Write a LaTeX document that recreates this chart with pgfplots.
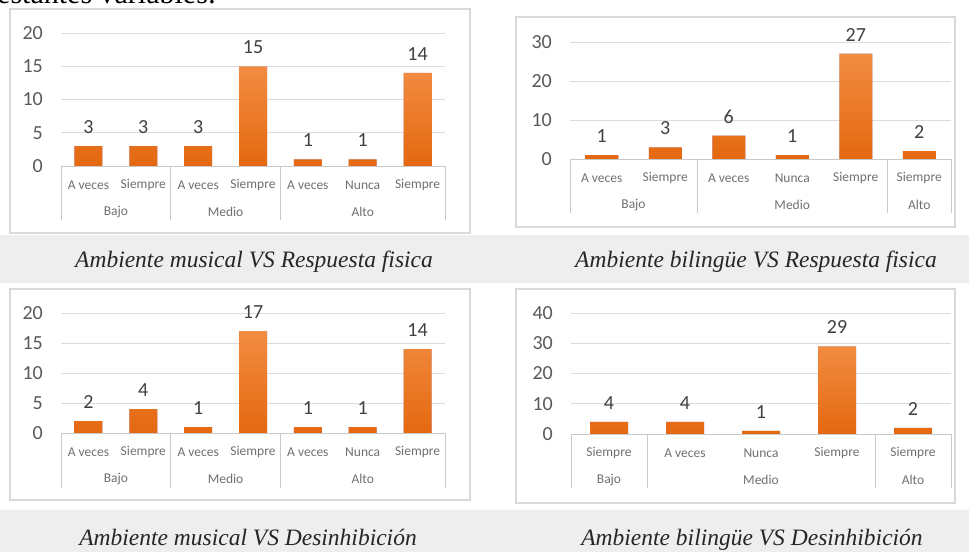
\documentclass[border=0pt]{standalone}
\usepackage{pgfplots}
\pgfplotsset{compat=1.18}
\usepackage{fontspec}
\setmainfont{Liberation Serif}
\newfontfamily\calibri{Carlito}

\definecolor{barTop}{HTML}{F28C42}
\definecolor{barBot}{HTML}{E4680F}
\definecolor{frameGray}{HTML}{D9D9D9}
\definecolor{gridGray}{HTML}{DCDCDC}
\definecolor{baseGray}{HTML}{C8C8C8}
\definecolor{bandGray}{HTML}{EEEEEE}
\definecolor{tickGray}{HTML}{595959}
\definecolor{catGray}{HTML}{707070}
\definecolor{valGray}{HTML}{404040}

\tikzset{
  grp/.style={font=\calibri\fontsize{13.5}{14}\selectfont, text=catGray, inner sep=0pt, anchor=center},
  sep/.style={baseGray, line width=0.8pt},
  captxt/.style={font=\fontsize{23.5}{28}\selectfont\itshape, text=black!85, anchor=base, inner sep=0pt},
}

\pgfplotsset{
  chart/.style={
    scale only axis,
    anchor=south west,
    ymin=0,
    axis line style={draw=none},
    major tick length=0pt,
    ymajorgrids,
    grid style={gridGray, line width=0.8pt},
    xtick=data,
    ybar,
    clip=false,
    tick label style={font=\calibri\fontsize{20}{20}\selectfont, text=tickGray},
    /pgf/number format/assume math mode=true,
    yticklabel style={anchor=east, inner sep=0pt, xshift=-18pt},
    xticklabel style={anchor=center, inner sep=0pt, yshift=-19pt,
      font=\calibri\fontsize{13.5}{14}\selectfont, text=catGray},
    nodes near coords,
    every node near coord/.append style={font=\calibri\fontsize{20}{20}\selectfont,
      text=valGray, anchor=center, inner sep=0pt, yshift=19pt},
    every axis plot/.append style={draw=none, top color=barTop, bottom color=barBot},
  },
}

\begin{document}
\begin{tikzpicture}
\useasboundingbox (0,0) rectangle (969pt,-552pt);
\clip (0,0) rectangle (969pt,-552pt);

% text of the page, cut at the top
\node[anchor=base west, inner sep=0pt, font=\fontsize{30}{32}\selectfont] at (-3pt,-3pt) {estantes variables:};

% grey caption bands
\fill[bandGray] (0,-235pt) rectangle (969pt,-283pt);
\fill[bandGray] (0,-510pt) rectangle (969pt,-552pt);

% chart frames
\draw[frameGray, line width=1.2pt, fill=white] (10pt,-9pt) rectangle (470pt,-233pt);
\draw[frameGray, line width=1.2pt, fill=white] (516pt,-17pt) rectangle (955pt,-227pt);
\draw[frameGray, line width=1.2pt, fill=white] (10pt,-289pt) rectangle (470pt,-500pt);
\draw[frameGray, line width=1.2pt, fill=white] (516pt,-289pt) rectangle (955pt,-503pt);

% Ambiente musical VS Respuesta fisica
\begin{axis}[chart, at={(61pt,-166pt)}, width=384pt, height=133pt,
  xmin=-0.5, xmax=6.5, ymax=20, ytick={0,5,10,15,20}, bar width=28pt,
  xticklabels={A veces,Siempre,A veces,Siempre,A veces,Nunca,Siempre}]
\addplot coordinates {(0,3) (1,3) (2,3) (3,15) (4,1) (5,1) (6,14)};
\draw[sep] (axis cs:-0.5,0) -- (axis cs:6.5,0);
\pgfplotsinvokeforeach{-0.5,1.5,3.5,6.5}{\draw[sep] (axis cs:#1,0) -- ++(0pt,-54pt);}
\node[grp, yshift=-46pt] at (axis cs:0.5,0) {Bajo};
\node[grp, yshift=-46pt] at (axis cs:2.5,0) {Medio};
\node[grp, yshift=-46pt] at (axis cs:5,0) {Alto};
\end{axis}

% Ambiente bilingue VS Respuesta fisica
\begin{axis}[chart, at={(570pt,-159pt)}, width=381pt, height=117pt,
  xmin=-0.5, xmax=5.5, ymax=30, ytick={0,10,20,30}, bar width=33pt,
  xticklabels={A veces,Siempre,A veces,Nunca,Siempre,Siempre}]
\addplot coordinates {(0,1) (1,3) (2,6) (3,1) (4,27) (5,2)};
\draw[sep] (axis cs:-0.5,0) -- (axis cs:5.5,0);
\pgfplotsinvokeforeach{-0.5,1.5,4.5,5.5}{\draw[sep] (axis cs:#1,0) -- ++(0pt,-54pt);}
\node[grp, yshift=-46pt] at (axis cs:0.5,0) {Bajo};
\node[grp, yshift=-46pt] at (axis cs:3,0) {Medio};
\node[grp, yshift=-46pt] at (axis cs:5,0) {Alto};
\end{axis}

% Ambiente musical VS Desinhibicion
\begin{axis}[chart, at={(61pt,-433pt)}, width=384pt, height=120pt,
  xmin=-0.5, xmax=6.5, ymax=20, ytick={0,5,10,15,20}, bar width=28pt,
  xticklabels={A veces,Siempre,A veces,Siempre,A veces,Nunca,Siempre}]
\addplot coordinates {(0,2) (1,4) (2,1) (3,17) (4,1) (5,1) (6,14)};
\draw[sep] (axis cs:-0.5,0) -- (axis cs:6.5,0);
\pgfplotsinvokeforeach{-0.5,1.5,3.5,6.5}{\draw[sep] (axis cs:#1,0) -- ++(0pt,-55pt);}
\node[grp, yshift=-46pt] at (axis cs:0.5,0) {Bajo};
\node[grp, yshift=-46pt] at (axis cs:2.5,0) {Medio};
\node[grp, yshift=-46pt] at (axis cs:5,0) {Alto};
\end{axis}

% Ambiente bilingue VS Desinhibicion
\begin{axis}[chart, at={(571pt,-434pt)}, width=380pt, height=121pt,
  xmin=-0.5, xmax=4.5, ymax=40, ytick={0,10,20,30,40}, bar width=38pt,
  xticklabels={Siempre,A veces,Nunca,Siempre,Siempre}]
\addplot coordinates {(0,4) (1,4) (2,1) (3,29) (4,2)};
\draw[sep] (axis cs:-0.5,0) -- (axis cs:4.5,0);
\pgfplotsinvokeforeach{-0.5,0.5,3.5,4.5}{\draw[sep] (axis cs:#1,0) -- ++(0pt,-54pt);}
\node[grp, yshift=-46pt] at (axis cs:0,0) {Bajo};
\node[grp, yshift=-46pt] at (axis cs:2,0) {Medio};
\node[grp, yshift=-46pt] at (axis cs:4,0) {Alto};
\end{axis}

% captions
\node[captxt] at (254pt,-267pt) {Ambiente musical VS Respuesta fisica};
\node[captxt] at (756pt,-267pt) {Ambiente bilingüe VS Respuesta fisica};
\node[captxt] at (248pt,-545pt) {Ambiente musical VS Desinhibición};
\node[captxt] at (752pt,-545pt) {Ambiente bilingüe VS Desinhibición};
\end{tikzpicture}
\end{document}
